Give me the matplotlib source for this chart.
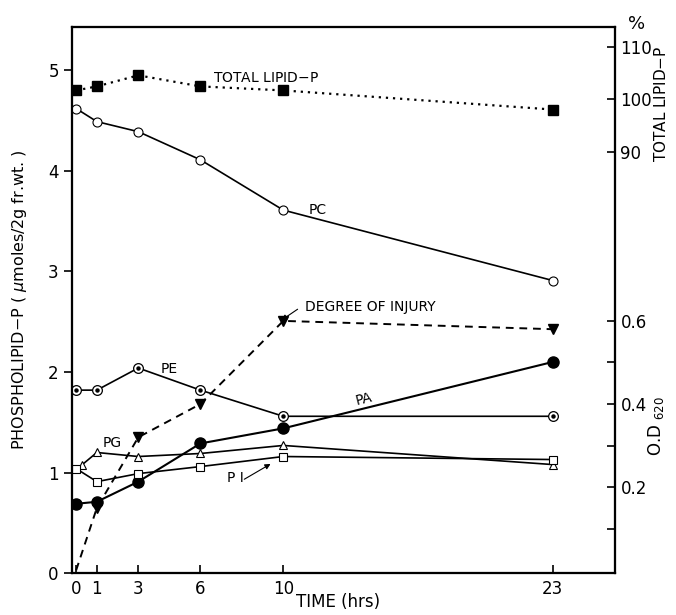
"""Phospholipid changes with time after injury, redrawn from a scanned figure."""
import matplotlib
matplotlib.use("Agg")
import matplotlib.pyplot as plt

TIME = [0, 1, 3, 6, 10, 23]
TIME_PG = [0.3, 1, 3, 6, 10, 23]

TOTAL_LIPID_P = [4.80, 4.84, 4.95, 4.84, 4.80, 4.61]
PC = [4.62, 4.49, 4.39, 4.11, 3.61, 2.91]
PE = [1.82, 1.82, 2.04, 1.82, 1.56, 1.56]
PA = [0.69, 0.71, 0.91, 1.29, 1.44, 2.10]
PG = [1.08, 1.20, 1.16, 1.19, 1.27, 1.08]
PI = [1.04, 0.91, 0.99, 1.06, 1.16, 1.13]

INJURY_TIME = [0, 1, 3, 6, 10, 23]
INJURY_OD = [0.0, 0.15, 0.32, 0.40, 0.60, 0.58]

X_TICKS = [0, 1, 3, 6, 10, 23]
Y_TICKS = [0, 1, 2, 3, 4, 5]
OD_TICKS = [0.1, 0.2, 0.3, 0.4, 0.5, 0.6]
OD_LABELS = ["", "0.2", "", "0.4", "", "0.6"]
PCT_TICKS = [90, 100, 110]

plt.rcParams["font.family"] = ["DejaVu Sans"]

fig = plt.figure(figsize=(6.76, 6.15), dpi=100)
ax = fig.add_axes([0.1065, 0.068, 0.803, 0.888])
ax.set_xlim(-0.2, 26.0)
ax.set_ylim(0, 5.43)

lw = 1.2
ax.plot(TIME, TOTAL_LIPID_P, color="black", linestyle=(0, (1, 2.2)), linewidth=1.6,
        marker="s", markersize=7, markerfacecolor="black", zorder=4)
ax.plot(TIME, PC, color="black", linewidth=lw, marker="o", markersize=6.5,
        markerfacecolor="white", markeredgewidth=0.8, zorder=4)
ax.plot(TIME, PE, color="black", linewidth=lw, marker="o", markersize=7,
        markerfacecolor="white", markeredgewidth=0.9, zorder=4)
ax.plot(TIME, PE, linestyle="none", marker="o", markersize=2.2, color="black", zorder=5)
ax.plot(TIME, PA, color="black", linewidth=1.5, marker="o", markersize=8,
        markerfacecolor="black", zorder=4)
ax.plot(TIME_PG, PG, color="black", linewidth=lw, marker="^", markersize=6,
        markerfacecolor="white", markeredgewidth=0.8, zorder=4)
ax.plot(TIME, PI, color="black", linewidth=lw, marker="s", markersize=6,
        markerfacecolor="white", markeredgewidth=0.8, zorder=4)

ax.set_xticks(X_TICKS)
ax.set_yticks(Y_TICKS)
ax.tick_params(axis="x", direction="in", length=6, width=1.2, labelsize=12, pad=5)
ax.tick_params(axis="y", direction="out", length=6, width=1.2, labelsize=12)
for s in ax.spines.values():
    s.set_linewidth(1.5)

fig.text(0.5, 0.021, "TIME (hrs)", fontsize=12, ha="center", va="center")
ax.set_ylabel(r"PHOSPHOLIPID$-$P ( $\mu$moles/2g fr.wt. )", fontsize=11.5, labelpad=14)

# O.D. 620 scale for degree of injury
ax_od = ax.twinx()
ax_od.set_ylim(-0.007, 1.307)
ax_od.plot(INJURY_TIME, INJURY_OD, color="black", linestyle=(0, (4, 3)), linewidth=1.4,
           marker="v", markersize=7, markerfacecolor="black", markevery=[1, 2, 3, 4, 5], zorder=4)
ax_od.set_yticks(OD_TICKS)
ax_od.set_yticklabels(OD_LABELS)
ax_od.tick_params(axis="y", direction="in", length=6, width=1.2, labelsize=12, pad=4)
ax_od.text(1.075, 0.27, r"O.D $_{620}$", transform=ax_od.transAxes, rotation=90,
           ha="center", va="center", fontsize=12)

# percentage scale for total lipid-P
ax_pct = ax.twinx()
ax_pct.set_ylim(9.71, 113.71)
ax_pct.set_yticks(PCT_TICKS)
ax_pct.tick_params(axis="y", direction="in", length=6, width=1.2, labelsize=12, pad=4)
for a in (ax_od, ax_pct):
    for s in a.spines.values():
        s.set_linewidth(1.5)
ax_pct.text(1.04, 0.99, "%", transform=ax_pct.transAxes, ha="center", va="bottom", fontsize=13)
ax_pct.text(1.085, 0.86, r"TOTAL LIPID$-$P", transform=ax_pct.transAxes, rotation=90,
            ha="center", va="center", fontsize=11)

# curve labels
ax.text(6.6, 4.92, r"TOTAL LIPID$-$P", fontsize=10, va="center")
ax.text(11.2, 3.61, "PC", fontsize=10, va="center")
ax.text(4.1, 2.03, "PE", fontsize=10, va="center")
ax.text(1.3, 1.29, "PG", fontsize=10, va="center")
ax.text(7.3, 0.95, "P I", fontsize=10, va="center")
ax.annotate("", xy=(9.5, 1.10), xytext=(8.0, 0.92),
            arrowprops=dict(arrowstyle="-|>", color="black", lw=0.8, mutation_scale=8))
ax.text(13.9, 1.73, "PA", fontsize=10, va="center", ha="center", rotation=14)
ax.text(11.06, 2.65, "DEGREE OF INJURY", fontsize=10, va="center", zorder=6)
ax.annotate("", xy=(9.8, 2.50), xytext=(10.8, 2.64),
            arrowprops=dict(arrowstyle="-|>", color="black", lw=0.8, mutation_scale=8),
            zorder=6)

fig.savefig("out.png", dpi=100)
